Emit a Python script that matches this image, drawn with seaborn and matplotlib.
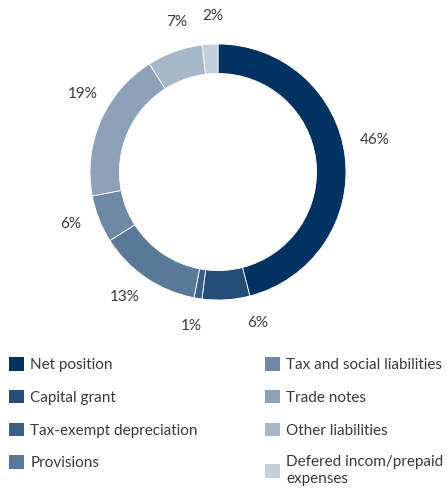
import numpy as np
import matplotlib
matplotlib.use("Agg")
import matplotlib.pyplot as plt
from matplotlib.patches import Patch
import seaborn as sns

categories = [
    "Net position",
    "Capital grant",
    "Tax-exempt depreciation",
    "Provisions",
    "Tax and social liabilities",
    "Trade notes",
    "Other liabilities",
    "Defered incom/prepaid\nexpenses",
]
shares = [46, 6, 1, 13, 6, 19, 7, 2]
colors = ["#003361", "#244e77", "#3b5f86", "#5a7898",
          "#6f89a5", "#8ca1b8", "#a6b7c9", "#c3cfdb"]

# angular nudges (degrees) keep neighbouring percent labels apart
label_nudge = [4.3, 11.0, -0.8, -2.4, -2.2, -6.6, -4.3, -1.6]
label_radius = [1.25, 1.22, 1.22, 1.22, 1.22, 1.22, 1.22, 1.22]

sns.set_theme(style="white")
plt.rcParams["font.family"] = ["Lato", "DejaVu Sans"]
text_color = "#3a3a3a"

W, H = 447, 492
fig = plt.figure(figsize=(W / 100, H / 100), dpi=100)

# donut axes: 1 data unit = 128 px, centre at (218, 172) px from top-left
R = 128.0
cx, cy = 218.0, 172.0
ax_h = 340.0
ax = fig.add_axes([0, (H - ax_h) / H, 1, ax_h / H])
wedges, _ = ax.pie(
    shares,
    colors=colors,
    startangle=90,
    counterclock=False,
    wedgeprops=dict(width=0.23, edgecolor="white", linewidth=0.6),
)
ax.set_xlim(-cx / R, (W - cx) / R)
ax.set_ylim(-(ax_h - cy) / R, cy / R)
ax.set_aspect("equal")
ax.axis("off")

for w, v, nd, r in zip(wedges, shares, label_nudge, label_radius):
    ang = np.deg2rad((w.theta1 + w.theta2) / 2 + nd)
    ax.text(r * np.cos(ang), r * np.sin(ang), f"{v}%",
            ha="center", va="center", fontsize=11, color=text_color)

handles = [Patch(facecolor=c, edgecolor="none") for c in colors]
fig.legend(
    handles, categories,
    ncol=2,
    loc="upper left",
    bbox_to_anchor=(9 / W, 1 - 357 / H),
    frameon=False,
    fontsize=11,
    handlelength=1.0,
    handleheight=1.0,
    handletextpad=0.4,
    columnspacing=4.4,
    labelspacing=1.16,
    borderaxespad=0,
    borderpad=0,
    labelcolor=text_color,
)

fig.savefig("out.png", dpi=100, facecolor="white")
